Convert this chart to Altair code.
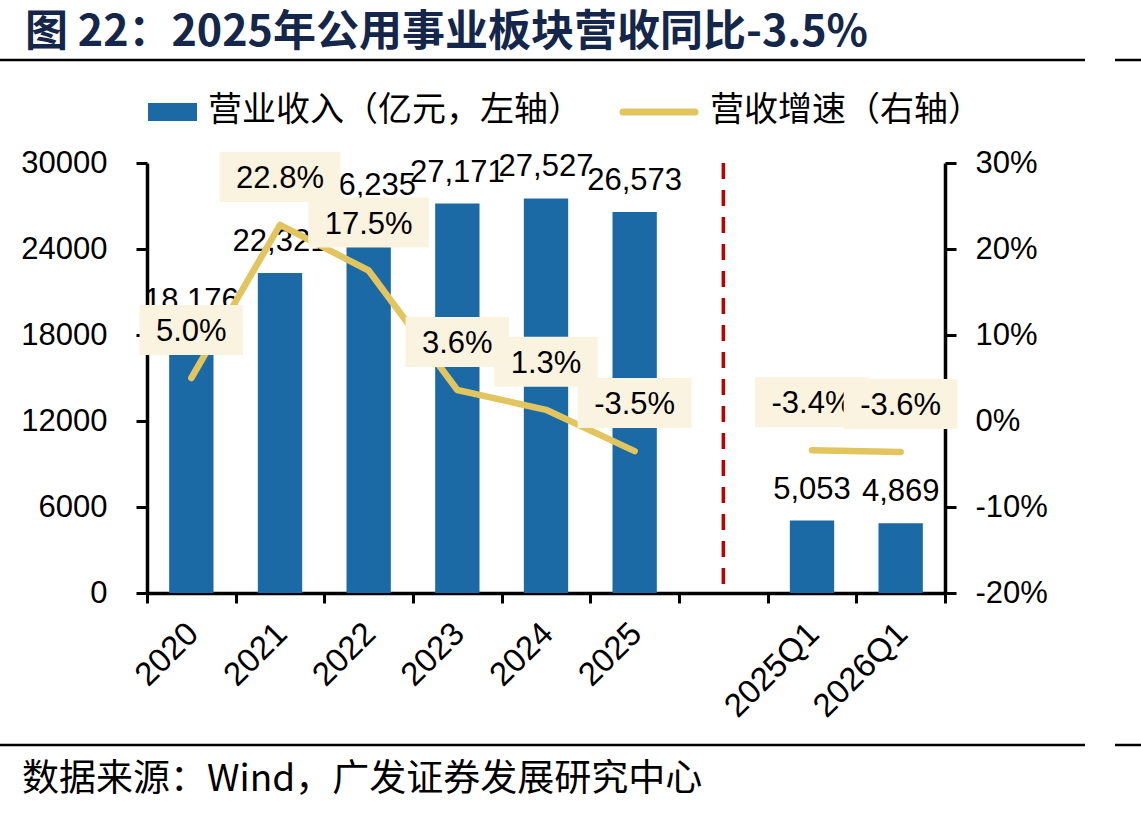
import altair as alt
import pandas as pd

# ---- data ----
categories = ["2020", "2021", "2022", "2023", "2024", "2025", " ", "2025Q1", "2026Q1"]
revenue = [18176, 22321, 26235, 27171, 27527, 26573, None, 5053, 4869]   # 亿元
growth = [5.0, 22.8, 17.5, 3.6, 1.3, -3.5, None, -3.4, -3.6]             # %

left_ticks = [0, 6000, 12000, 18000, 24000, 30000]
right_ticks = [-20, -10, 0, 10, 20, 30]

title_text = "图 22：2025年公用事业板块营收同比-3.5%"
legend_bar = "营业收入（亿元，左轴）"
legend_line = "营收增速（右轴）"
source_text = "数据来源：Wind，广发证券发展研究中心"

# ---- styling ----
W, H = 798, 430
PAD = {"left": 147, "top": 163, "right": 196, "bottom": 222}
BAR = "#1B6AA5"
GOLD = "#E2C55F"
BOX = "#FAF3E0"
RED = "#C00000"
NUM_FONT = "Liberation Sans"
CJK_FONT = "Noto Sans CJK SC"
FS = 31

df = pd.DataFrame({"cat": categories, "rev": revenue, "g": growth})
df["period"] = ["quarter" if "Q" in c else "year" for c in categories]
df["g_label"] = [None if v is None or pd.isna(v) else f"{v:.1f}%" for v in df["g"]]

x_enc = alt.X(
    "cat:N",
    sort=categories,
    scale=alt.Scale(domain=categories, paddingInner=0, paddingOuter=0),
    axis=alt.Axis(
        title=None, labelAngle=-45, labelFont=NUM_FONT, labelFontSize=33,
        labelColor="black", tickBand="extent", tickSize=10, tickWidth=3,
        tickColor="black", domainColor="black", domainWidth=3.5,
        labelPadding=14, labelOffset=-10, labelOverlap=False,
    ),
)

y_left = alt.Y(
    "rev:Q",
    scale=alt.Scale(domain=[0, 30000], nice=False, zero=True),
    axis=alt.Axis(
        orient="left", title=None, values=left_ticks, format="d", grid=False,
        labelFont=NUM_FONT, labelFontSize=FS, labelColor="black",
        tickSize=11, tickWidth=3, tickColor="black",
        domainColor="black", domainWidth=3.5, labelPadding=29,
    ),
)

y_right = alt.Y(
    "g:Q",
    scale=alt.Scale(domain=[-20, 30], nice=False, zero=False),
    axis=alt.Axis(
        orient="right", title=None, values=right_ticks, grid=False,
        labelExpr="datum.value + '%'",
        labelFont=NUM_FONT, labelFontSize=FS, labelColor="black",
        tickSize=11, tickWidth=3, tickColor="black",
        domainColor="black", domainWidth=3.5, labelPadding=19,
    ),
)

base = alt.Chart(df)

# revenue bars with value labels
bars = base.transform_filter("isValid(datum.rev)").mark_bar(
    color=BAR, width=alt.RelativeBandSize(0.5)
).encode(x=x_enc, y=y_left)
bar_labels = base.transform_filter("isValid(datum.rev)").mark_text(
    font=NUM_FONT, fontSize=FS, color="black", baseline="alphabetic", dy=-22
).encode(x=x_enc, y=y_left, text=alt.Text("rev:Q", format=","))
left_group = alt.layer(bars, bar_labels)

# growth line (annual and quarterly segments drawn separately)
line = base.transform_filter("isValid(datum.g)").mark_line(
    color=GOLD, strokeWidth=6.5, strokeCap="round", strokeJoin="round"
).encode(x=x_enc, y=y_right, detail="period:N")

# percentage labels on cream boxes, drawn one after another so later boxes sit on top
char_w = {".": 0.278, "%": 0.889, "-": 0.333}
label_layers = []
for cat, lab in zip(df["cat"], df["g_label"]):
    if lab is None:
        continue
    tw = sum(char_w.get(ch, 0.556) for ch in lab) * FS
    hw = round((tw + 33) / 2, 1)
    path = f"M{-hw},-25H{hw}V25H{-hw}Z"
    sel = base.transform_filter(alt.datum.cat == cat)
    box = sel.mark_point(
        shape=path, size=4, filled=True, fill=BOX, opacity=1, strokeWidth=0, yOffset=-48
    ).encode(x=x_enc, y=y_right)
    txt = sel.mark_text(
        font=NUM_FONT, fontSize=FS, color="black", baseline="middle", yOffset=-46
    ).encode(x=x_enc, y=y_right, text="g_label:N")
    label_layers += [box, txt]

right_group = alt.layer(line, *label_layers)

# dashed separator between annual and quarterly data
divider = base.transform_filter(alt.datum.cat == " ").mark_rule(
    color=RED, strokeWidth=3.5, strokeDash=[16, 11]
).encode(x=x_enc, y=alt.value(0), y2=alt.value(H))

# title, legend, source and frame rules
one = alt.Chart(pd.DataFrame({"k": [0]}))
title = one.mark_text(
    font=CJK_FONT, fontSize=43, fontWeight="bold", color="#14264A", align="left", baseline="middle"
).encode(x=alt.value(-122), y=alt.value(-130), text=alt.value(title_text))
rule_top = one.mark_rule(color="black", strokeWidth=2.5).encode(
    x=alt.value(-147), x2=alt.value(938), y=alt.value(-103))
rule_top2 = one.mark_rule(color="black", strokeWidth=2.5).encode(
    x=alt.value(968), x2=alt.value(994), y=alt.value(-103))
rule_bot = one.mark_rule(color="black", strokeWidth=2.5).encode(
    x=alt.value(-147), x2=alt.value(938), y=alt.value(582))
rule_bot2 = one.mark_rule(color="black", strokeWidth=2.5).encode(
    x=alt.value(968), x2=alt.value(994), y=alt.value(582))
leg_rect = one.mark_rect(color=BAR).encode(
    x=alt.value(1), x2=alt.value(50), y=alt.value(-60), y2=alt.value(-42))
leg_text1 = one.mark_text(
    font=CJK_FONT, fontSize=34, color="black", align="left", baseline="middle"
).encode(x=alt.value(61), y=alt.value(-52), text=alt.value(legend_bar))
leg_line = one.mark_rule(color=GOLD, strokeWidth=7, strokeCap="round").encode(
    x=alt.value(476), x2=alt.value(548), y=alt.value(-51))
leg_text2 = one.mark_text(
    font=CJK_FONT, fontSize=34, color="black", align="left", baseline="middle"
).encode(x=alt.value(563), y=alt.value(-52), text=alt.value(legend_line))
source = one.mark_text(
    font=CJK_FONT, fontSize=37, color="black", align="left", baseline="middle"
).encode(x=alt.value(-125), y=alt.value(617), text=alt.value(source_text))

chart = alt.layer(
    left_group, right_group, divider,
    title, rule_top, rule_top2, rule_bot, rule_bot2,
    leg_rect, leg_text1, leg_line, leg_text2, source,
).resolve_scale(y="independent").properties(
    width=W, height=H, padding=PAD, autosize=alt.AutoSizeParams(type="none"),
    background="white",
).configure_view(stroke=None)

chart.save("out.html", embed_options={"renderer": "svg", "actions": False})
